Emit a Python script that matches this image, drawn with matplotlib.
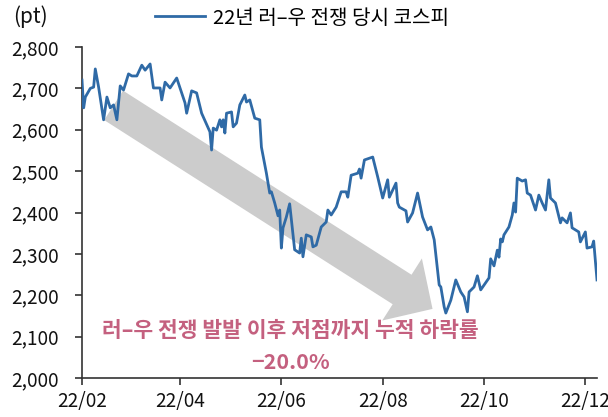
import pandas as pd
import matplotlib
matplotlib.use("Agg")
import matplotlib.pyplot as plt
import matplotlib.dates as mdates

plt.rcParams['font.family'] = ['Noto Sans CJK KR', 'DejaVu Sans']

# KOSPI during the 2022 Russia-Ukraine war
dates = [
    "02-01", "02-02", "02-03", "02-06", "02-08", "02-09", "02-11", "02-14", "02-16", "02-18",
    "02-20", "02-22", "02-24", "02-26", "03-01", "03-03", "03-06", "03-09", "03-11", "03-14",
    "03-16", "03-20", "03-21", "03-23", "03-26", "03-30", "04-01", "04-04", "04-05", "04-08",
    "04-11", "04-14", "04-19", "04-20", "04-21", "04-23", "04-25", "04-26", "04-27", "04-28",
    "04-29", "05-02", "05-03", "05-05", "05-07", "05-10", "05-11", "05-13", "05-16", "05-19",
    "05-20", "05-23", "05-25", "05-26", "05-28", "05-30", "05-31", "06-01", "06-02", "06-04",
    "06-06", "06-09", "06-12", "06-13", "06-14", "06-16", "06-19", "06-20", "06-22", "06-25",
    "06-28", "06-29", "07-01", "07-04", "07-07", "07-10", "07-11", "07-13", "07-17", "07-18",
    "07-19", "07-21", "07-26", "07-29", "08-01", "08-04", "08-05", "08-09", "08-10", "08-11",
    "08-15", "08-16", "08-19", "08-22", "08-25", "08-28", "08-30", "09-01", "09-04", "09-05",
    "09-07", "09-08", "09-11", "09-14", "09-17", "09-19", "09-21", "09-22", "09-25", "09-27",
    "09-29", "10-04", "10-05", "10-07", "10-09", "10-10", "10-11", "10-12", "10-13", "10-16",
    "10-18", "10-19", "10-20", "10-21", "10-24", "10-26", "10-27", "10-29", "11-01", "11-03",
    "11-05", "11-07", "11-09", "11-10", "11-13", "11-16", "11-17", "11-20", "11-22", "11-23",
    "11-27", "11-28", "12-01", "12-02", "12-05", "12-06", "12-08",
]
kospi = [
    2720, 2653, 2679, 2700, 2703, 2747, 2703, 2624, 2679, 2653,
    2660, 2624, 2706, 2696, 2735, 2730, 2730, 2756, 2744, 2759,
    2701, 2701, 2672, 2715, 2701, 2725, 2701, 2665, 2640, 2694,
    2689, 2640, 2595, 2551, 2604, 2599, 2624, 2607, 2624, 2592,
    2640, 2643, 2607, 2616, 2660, 2684, 2667, 2672, 2628, 2624,
    2558, 2495, 2447, 2450, 2423, 2392, 2406, 2314, 2363, 2389,
    2421, 2310, 2302, 2338, 2293, 2346, 2341, 2317, 2321, 2365,
    2377, 2406, 2394, 2413, 2450, 2450, 2437, 2490, 2495, 2505,
    2483, 2527, 2534, 2486, 2435, 2479, 2437, 2471, 2423, 2413,
    2404, 2377, 2399, 2447, 2389, 2358, 2365, 2334, 2225, 2220,
    2172, 2157, 2188, 2237, 2208, 2196, 2160, 2208, 2220, 2247,
    2213, 2242, 2288, 2271, 2309, 2292, 2336, 2329, 2346, 2365,
    2394, 2423, 2401, 2483, 2476, 2479, 2447, 2442, 2406, 2442,
    2423, 2406, 2479, 2435, 2423, 2375, 2387, 2375, 2399, 2363,
    2353, 2329, 2353, 2314, 2317, 2331, 2237,
]
x = pd.to_datetime(["2022-" + d for d in dates])

tick_dates = pd.to_datetime(["2022-02-01", "2022-04-01", "2022-06-01",
                             "2022-08-01", "2022-10-01", "2022-12-01"])
y_ticks = [2000, 2100, 2200, 2300, 2400, 2500, 2600, 2700, 2800]

line_color = '#2f6aa6'
note_color = '#c4607f'

fig = plt.figure(figsize=(6.08, 4.17), dpi=100)
ax = fig.add_axes([82/608, 39/417, 515/608, 331/417])

# big gray arrow showing the fall
ax.annotate('', xy=(pd.Timestamp("2022-08-31"), 2167),
            xytext=(pd.Timestamp("2022-02-20"), 2659),
            arrowprops=dict(arrowstyle='simple,head_length=1.3,head_width=2.65,tail_width=1.26',
                            mutation_scale=20, color='#cccccc', lw=0,
                            shrinkA=0, shrinkB=0), zorder=1)

ax.plot(x, kospi, color=line_color, lw=2.0, zorder=3, label='22년 러\u2013우 전쟁 당시 코스피')

ax.set_ylim(2000, 2800)
ax.set_yticks(y_ticks)
ax.set_yticklabels([f"{v:,}" for v in y_ticks])
ax.set_xlim(pd.Timestamp("2022-02-01"), x[-1])
ax.set_xticks(tick_dates)
ax.xaxis.set_major_formatter(mdates.DateFormatter('%y/%m'))

for s in ['top', 'right']:
    ax.spines[s].set_visible(False)
for s in ['left', 'bottom']:
    ax.spines[s].set_color('#333333')
    ax.spines[s].set_linewidth(1.2)
ax.tick_params(axis='both', labelsize=13.7, color='#333333', length=5, width=1.2,
               labelcolor='#111111')
ax.tick_params(axis='y', pad=12)
ax.tick_params(axis='x', pad=4)

ax.text(0.405, 0.145, '러\u2013우 전쟁 발발 이후 저점까지 누적 하락률', transform=ax.transAxes,
        ha='center', va='center', fontsize=15.5, color=note_color, fontweight='bold')
ax.text(0.405, 0.048, '\u221220.0%', transform=ax.transAxes,
        ha='center', va='center', fontsize=15.5, color=note_color, fontweight='bold')

fig.text(13/608, 1 - 17/417, '(pt)', ha='left', va='center', fontsize=15, color='#111111')
fig.legend(loc='center left', bbox_to_anchor=(155/608, 1 - 18/417), frameon=False,
           fontsize=14.5, handlelength=2.5, handletextpad=0.4, borderpad=0,
           borderaxespad=0)

fig.savefig('out.png', dpi=100)
